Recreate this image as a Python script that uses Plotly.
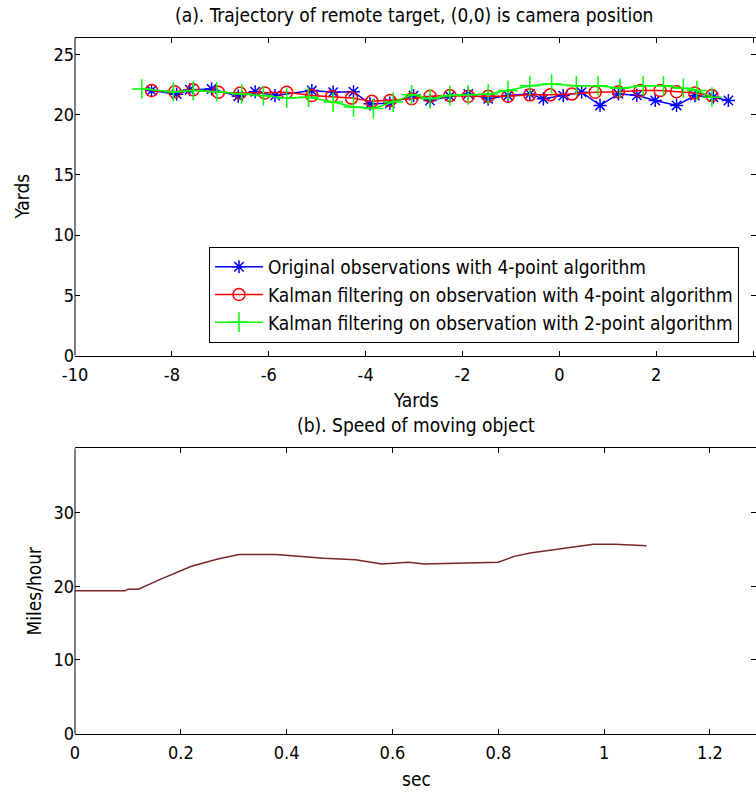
import plotly.graph_objects as go

# ---------------- data ----------------
obs4_x = [-8.42, -7.90, -7.63, -7.18, -6.63, -6.28, -5.87, -5.11, -4.67, -4.25, -3.91, -3.50,
          -3.01, -2.67, -2.26, -1.88, -1.47, -1.06, -0.61, -0.33, 0.08, 0.46, 0.84, 1.22,
          1.60, 1.98, 2.42, 2.80, 3.18, 3.49]
obs4_y = [22.0, 21.7, 22.07, 22.13, 21.53, 21.9, 21.58, 22.0, 21.86, 21.9, 20.9, 20.95,
          21.58, 21.17, 21.53, 21.72, 21.31, 21.58, 21.72, 21.31, 21.58, 21.86, 20.76, 21.72,
          21.6, 21.17, 20.76, 21.58, 21.45, 21.17]

kal4_x = [-8.42, -7.94, -7.56, -7.04, -6.59, -6.08, -5.63, -5.11, -4.70, -4.29, -3.87, -3.50,
          -3.05, -2.67, -2.26, -1.88, -1.47, -1.06, -0.61, -0.19, 0.26, 0.74, 1.22, 1.67,
          2.08, 2.42, 2.80, 3.15]
kal4_y = [22.0, 21.9, 22.07, 21.86, 21.8, 21.8, 21.86, 21.58, 21.5, 21.37, 21.1, 21.17,
          21.31, 21.53, 21.58, 21.53, 21.53, 21.53, 21.64, 21.64, 21.72, 21.86, 21.9, 22.0,
          22.0, 21.9, 21.8, 21.58]

kal2_x = [-8.62, -7.97, -7.56, -7.07, -6.56, -6.11, -5.63, -5.18, -4.67, -4.25, -3.84, -3.43,
          -3.05, -2.67, -2.26, -1.88, -1.47, -1.06, -0.61, -0.16, 0.35, 0.80, 1.25, 1.73,
          2.15, 2.56, 2.84, 3.15]
kal2_y = [22.13, 21.9, 22.0, 21.9, 21.72, 21.58, 21.37, 21.45, 21.04, 20.63, 20.5, 21.04,
          21.64, 21.31, 21.58, 21.64, 21.72, 22.0, 22.4, 22.54, 22.4, 22.4, 22.19, 22.4,
          22.4, 22.19, 22.0, 21.45]

time_s = [0.0, 0.095, 0.10, 0.12, 0.16, 0.22, 0.27, 0.31, 0.38, 0.42, 0.47, 0.53, 0.56,
          0.58, 0.63, 0.66, 0.80, 0.83, 0.86, 0.90, 0.95, 0.98, 1.02, 1.08]
speed_mph = [19.4, 19.4, 19.6, 19.6, 20.9, 22.7, 23.7, 24.3, 24.3, 24.05, 23.8, 23.6, 23.2,
             23.0, 23.25, 23.0, 23.25, 24.05, 24.5, 24.9, 25.4, 25.7, 25.7, 25.5]

traj_xticks = [-10, -8, -6, -4, -2, 0, 2, 4]
traj_xticklabels = ["-10", "-8", "-6", "-4", "-2", "0", "2", "4"]
traj_yticks = [0, 5, 10, 15, 20, 25]
speed_xticks = [0, 0.2, 0.4, 0.6, 0.8, 1.0, 1.2]
speed_xticklabels = ["0", "0.2", "0.4", "0.6", "0.8", "1", "1.2"]
speed_yticks = [0, 10, 20, 30]

legend_names = ["Original observations with 4-point algorithm",
                "Kalman filtering on observation with 4-point algorithm",
                "Kalman filtering on observation with 2-point algorithm"]

# ---------------- figure ----------------
FONT = "DejaVu Sans Condensed, Liberation Sans Narrow, Arial Narrow, sans-serif"
W, H = 756, 801
L = 75


def py(px):
    return 1 - px / H


def pxx(px):
    return (px - L) / (W - L)


fig = go.Figure()
fig.add_trace(go.Scatter(x=obs4_x, y=obs4_y, mode="lines+markers", name=legend_names[0],
                         line=dict(color="#0000FF", width=1.5),
                         marker=dict(symbol="asterisk-open", size=11,
                                     line=dict(color="#0000FF", width=1.5)),
                         xaxis="x", yaxis="y"))
fig.add_trace(go.Scatter(x=kal4_x, y=kal4_y, mode="lines+markers", name=legend_names[1],
                         line=dict(color="#FF0000", width=1.5),
                         marker=dict(symbol="circle-open", size=12,
                                     line=dict(color="#FF0000", width=1.5)),
                         xaxis="x", yaxis="y"))
fig.add_trace(go.Scatter(x=kal2_x, y=kal2_y, mode="lines+markers", name=legend_names[2],
                         line=dict(color="#00FF00", width=1.5),
                         marker=dict(symbol="cross-thin-open", size=14,
                                     line=dict(color="#00FF00", width=1.5)),
                         xaxis="x", yaxis="y"))
fig.add_trace(go.Scatter(x=time_s, y=speed_mph, mode="lines", showlegend=False,
                         line=dict(color="#7a2626", width=1.5),
                         xaxis="x2", yaxis="y2"))

tick_common = dict(showgrid=False, zeroline=False, mirror="ticks", ticks="inside", ticklen=5,
                   tickcolor="black", tickwidth=1, linecolor="black", linewidth=1,
                   tickfont=dict(family=FONT, size=18, color="black"))

fig.update_layout(
    width=W, height=H,
    margin=dict(l=L, r=0, t=0, b=0),
    paper_bgcolor="white", plot_bgcolor="white",
    xaxis=dict(domain=[0, 1], anchor="y", range=[-10, 4.06], showline=True,
               ticklabelstandoff=3,
               tickmode="array", tickvals=traj_xticks, ticktext=traj_xticklabels, **tick_common),
    yaxis=dict(domain=[py(360), py(38)], anchor="x", range=[0, 26.4], showline=False,
               tickmode="array", tickvals=traj_yticks, **tick_common),
    xaxis2=dict(domain=[0, 1], anchor="y2", range=[0, 1.287], showline=True,
                ticklabelstandoff=3,
                tickmode="array", tickvals=speed_xticks, ticktext=speed_xticklabels, **tick_common),
    yaxis2=dict(domain=[py(743), py(454)], anchor="x2", range=[0, 38.7], showline=False,
                tickmode="array", tickvals=speed_yticks, **tick_common),
    legend=dict(x=pxx(739), y=py(250), xanchor="right", yanchor="top",
                bgcolor="white", bordercolor="black", borderwidth=1,
                font=dict(family=FONT, size=19, color="black"),
                itemwidth=48, tracegroupgap=0),
    showlegend=True,
)

# left border lines of both axes boxes
for top, bot in [(38, 360), (454, 743)]:
    fig.add_shape(type="line", xref="paper", yref="paper", x0=0, x1=0,
                  y0=py(bot), y1=py(top), line=dict(color="black", width=1))

ann_font = dict(family=FONT, size=19, color="black")
annotations = [
    dict(text="(a). Trajectory of remote target, (0,0) is camera position", x=pxx(414), y=py(15)),
    dict(text="Yards", x=pxx(416), y=py(405)),
    dict(text="(b). Speed of moving object", x=pxx(416), y=py(430)),
    dict(text="sec", x=pxx(416), y=py(789)),
    dict(text="Yards", x=pxx(22), y=py(199), textangle=-90),
    dict(text="Miles/hour", x=pxx(34), y=py(598), textangle=-90),
]
for a in annotations:
    fig.add_annotation(xref="paper", yref="paper", showarrow=False,
                       xanchor="center", yanchor="middle", font=ann_font, **a)

fig.write_html("out.html")
